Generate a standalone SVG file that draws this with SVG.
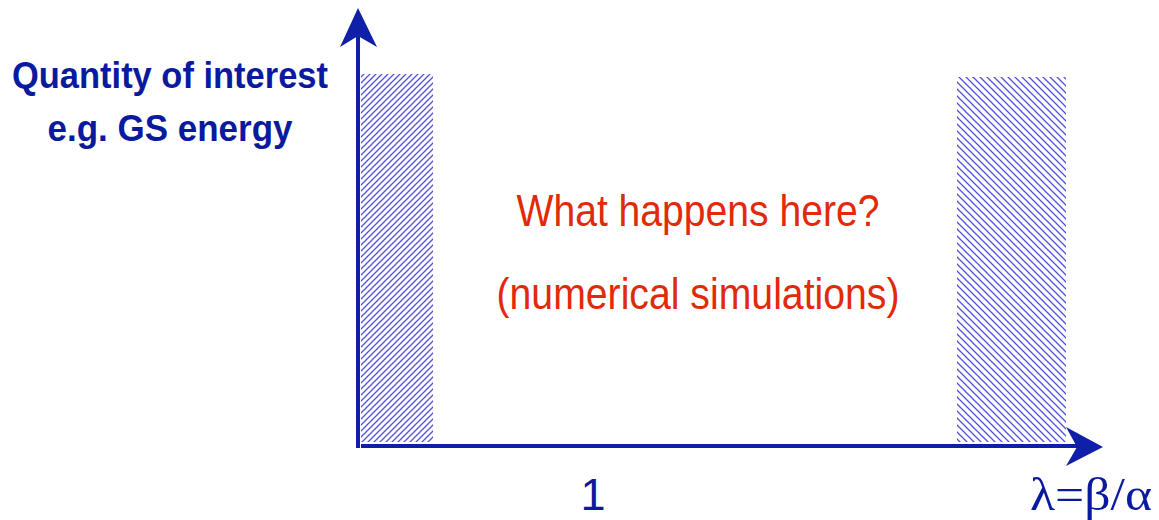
<svg xmlns="http://www.w3.org/2000/svg" width="1159" height="520" viewBox="0 0 1159 520">
<defs>
<style>
.axis{stroke:#0f1fa8;stroke-width:4;fill:none}
.head{fill:#0f1fa8}
.lbl{font-family:"Liberation Sans",Arial,sans-serif;font-weight:bold;fill:#0a1a9e;font-size:37px}
.red{font-family:"Liberation Sans",Arial,sans-serif;fill:#e02a0a;font-size:44px}
.tick{font-family:"Liberation Sans",Arial,sans-serif;fill:#0a1a9e;font-size:45px}
.greek{font-family:"Liberation Serif","Times New Roman",serif;fill:#0a1a9e;font-size:46px}
</style>
<pattern id="hatchL" patternUnits="userSpaceOnUse" width="6" height="6">
<path d="M-1,1 L1,-1 M0,6 L6,0 M5,7 L7,5" stroke="#5050e4" stroke-width="1.3"/>
</pattern>
<pattern id="hatchR" patternUnits="userSpaceOnUse" width="7" height="7">
<path d="M-1,6 L1,8 M0,0 L7,7 M6,-1 L8,1" stroke="#5050e4" stroke-width="1.3"/>
</pattern>
</defs>
<g id="hatch-left"><rect x="361" y="74" width="72" height="368" fill="url(#hatchL)"/></g>
<g id="hatch-right"><rect x="957" y="77" width="109" height="365" fill="url(#hatchR)"/></g>
<g id="connectors">
<line class="axis" x1="358" y1="448" x2="358" y2="36"/>
<polygon class="head" points="358,8 340,47 358,36 377,47"/>
<line class="axis" x1="361" y1="446" x2="1078" y2="446"/>
<polygon class="head" points="1103,447 1066,427 1077,447 1066,466"/>
</g>
<g id="ylabel">
<text class="lbl" x="170" y="88" text-anchor="middle" textLength="316" lengthAdjust="spacingAndGlyphs">Quantity of interest</text>
<text class="lbl" x="170" y="141" text-anchor="middle" textLength="245" lengthAdjust="spacingAndGlyphs">e.g. GS energy</text>
</g>
<g id="center-text">
<text class="red" x="698" y="226" text-anchor="middle" textLength="363" lengthAdjust="spacingAndGlyphs">What happens here?</text>
<text class="red" x="698" y="309" text-anchor="middle" textLength="403" lengthAdjust="spacingAndGlyphs">(numerical simulations)</text>
</g>
<g id="tick-1"><text class="tick" x="593" y="510" text-anchor="middle">1</text></g>
<g id="xlabel"><text class="greek" x="1091" y="510" text-anchor="middle" textLength="122" lengthAdjust="spacingAndGlyphs">λ=β/α</text></g>
</svg>
